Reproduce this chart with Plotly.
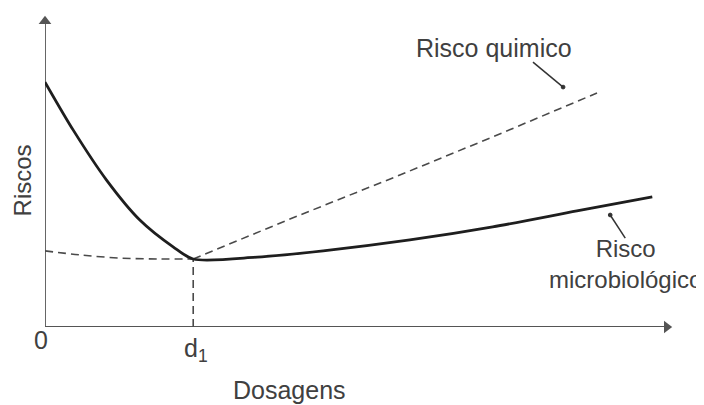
import plotly.graph_objects as go

# Dosage (x) and risk (y) values
solid_x = [0.0, 0.45, 0.98, 1.51, 2.04, 2.36, 3.38, 4.43, 5.81, 7.13, 8.47, 9.67]
solid_y = [7.85, 6.31, 4.71, 3.43, 2.57, 2.18, 2.24, 2.44, 2.79, 3.21, 3.72, 4.17]

low_dash_x = [0.0, 0.56, 1.19, 1.83, 2.36]
low_dash_y = [2.44, 2.31, 2.21, 2.18, 2.18]

chem_x = [2.36, 3.90, 5.65, 7.09, 8.79]
chem_y = [2.18, 3.46, 4.87, 6.06, 7.50]

d1 = 2.36
d1_y = 2.18

x_max = 10
y_max = 10

font_family = "Liberation Sans, Arial, sans-serif"
text_color = "#404040"
axis_color = "#555555"
fs = 25

fig = go.Figure()

# axes
fig.add_trace(go.Scatter(x=[0, 0], y=[0, y_max - 0.25], mode="lines",
                         line=dict(color=axis_color, width=1.8),
                         cliponaxis=False, hoverinfo="skip"))
fig.add_trace(go.Scatter(x=[0, x_max - 0.12], y=[0, 0], mode="lines",
                         line=dict(color=axis_color, width=1.8),
                         cliponaxis=False, hoverinfo="skip"))
fig.add_trace(go.Scatter(x=[0], y=[y_max - 0.2], mode="markers",
                         marker=dict(symbol="triangle-up", size=11, color=axis_color),
                         cliponaxis=False, hoverinfo="skip"))
fig.add_trace(go.Scatter(x=[x_max - 0.1], y=[0], mode="markers",
                         marker=dict(symbol="triangle-right", size=11, color=axis_color),
                         cliponaxis=False, hoverinfo="skip"))

fig.add_trace(go.Scatter(x=low_dash_x, y=low_dash_y, mode="lines",
                         line=dict(color="#4a4a4a", width=1.6, dash="8px,5px", shape="spline"),
                         cliponaxis=False, hoverinfo="skip"))
fig.add_trace(go.Scatter(x=chem_x, y=chem_y, mode="lines",
                         line=dict(color="#4a4a4a", width=1.6, dash="8px,5px"),
                         cliponaxis=False, hoverinfo="skip"))
fig.add_trace(go.Scatter(x=[d1, d1], y=[0, d1_y], mode="lines",
                         line=dict(color="#4a4a4a", width=1.6, dash="8px,5px"),
                         cliponaxis=False, hoverinfo="skip"))
fig.add_trace(go.Scatter(x=solid_x, y=solid_y, mode="lines",
                         line=dict(color="#1e1e1e", width=2.8, shape="spline", smoothing=0.8),
                         cliponaxis=False, hoverinfo="skip"))

# pointer lines (shapes) with small dot at the tip
shapes = [
    dict(type="line", xref="x", yref="y", x0=7.77, y0=8.49, x1=8.25, y1=7.69,
         line=dict(color="#333333", width=1.5)),
    dict(type="circle", xref="x", yref="y", x0=8.22, y0=7.63, x1=8.28, y1=7.75,
         fillcolor="#333333", line=dict(color="#333333", width=1)),
    dict(type="line", xref="x", yref="y", x0=9.24, y0=2.85, x1=9.0, y1=3.59,
         line=dict(color="#333333", width=1.5)),
    dict(type="circle", xref="x", yref="y", x0=8.97, y0=3.53, x1=9.03, y1=3.65,
         fillcolor="#333333", line=dict(color="#333333", width=1)),
]

def txt(x, y, s, **kw):
    d = dict(x=x, y=y, xref="paper", yref="paper", text=s, showarrow=False,
             xanchor="center", yanchor="middle",
             font=dict(size=fs, color=text_color, family=font_family))
    d.update(kw)
    return d

annotations = [
    txt(0.715, 0.894, "Risco quimico"),
    txt(0.924, 0.202, "Risco<br>microbiológico",
        font=dict(size=24, color=text_color, family=font_family)),
    txt(-0.006, -0.042, "0"),
    txt(0.240, -0.075, "d<sub>1</sub>"),
    txt(0.39, -0.202, "Dosagens"),
    txt(-0.036, 0.471, "Riscos", textangle=-90,
        font=dict(size=24, color=text_color, family=font_family)),
]

fig.update_layout(
    width=696, height=397,
    margin=dict(l=37, r=31, t=7, b=78),
    paper_bgcolor="white", plot_bgcolor="white",
    showlegend=False,
    xaxis=dict(range=[0, x_max], visible=False, fixedrange=True),
    yaxis=dict(range=[0, y_max], visible=False, fixedrange=True),
    shapes=shapes,
    annotations=annotations,
)

fig.write_html("out.html")
